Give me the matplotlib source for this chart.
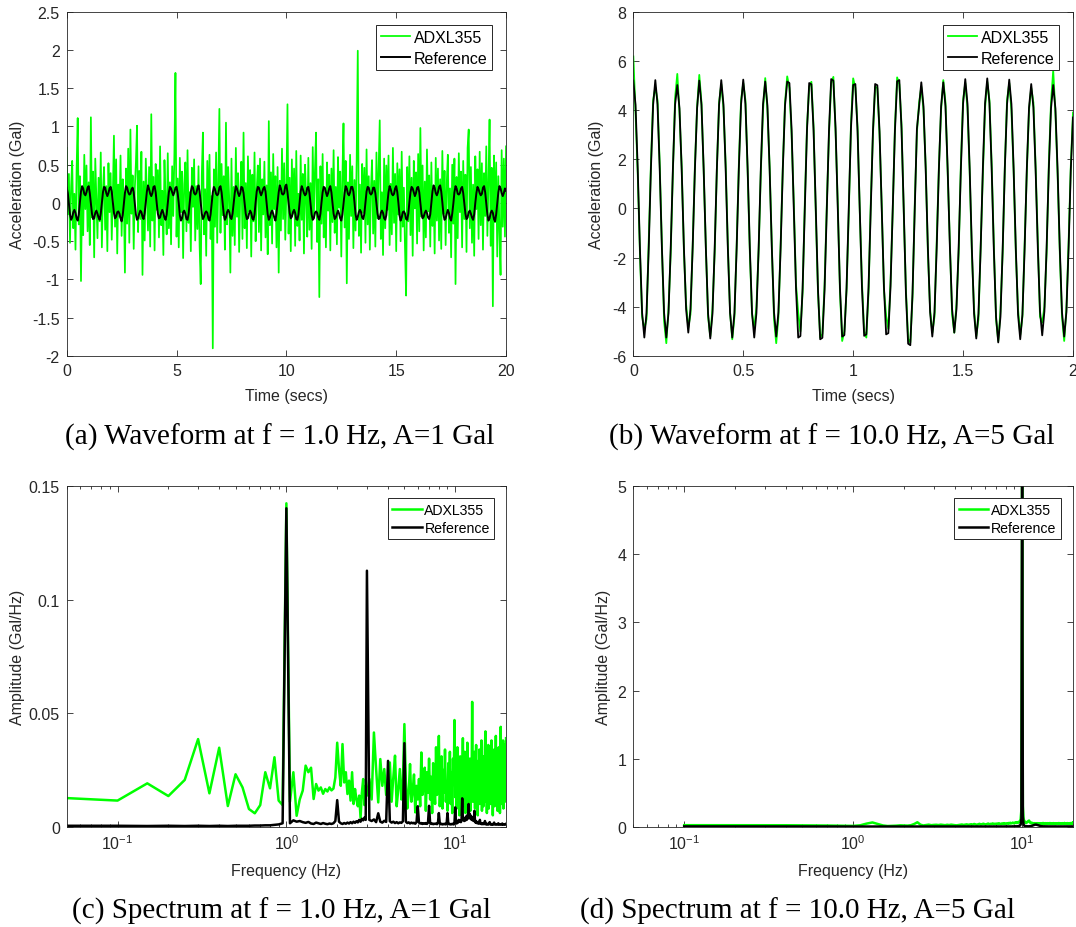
import numpy as np
import matplotlib

matplotlib.use("Agg")
import matplotlib.pyplot as plt
from matplotlib.ticker import FuncFormatter, LogLocator, NullFormatter

plt.rcParams["font.family"] = ["Liberation Sans", "DejaVu Sans"]
plt.rcParams["axes.unicode_minus"] = False
plt.rcParams["mathtext.fontset"] = "custom"
plt.rcParams["mathtext.rm"] = "Liberation Sans"
plt.rcParams["mathtext.it"] = "Liberation Sans:italic"

GREEN = "#00ff00"
AXCOL = "#262626"

# ---------------- (a) waveform 1.0 Hz, 0.05 s steps ----------------
acc_a_sensor = [
    0.72, -0.15, 0.38, -0.52, 0.21, 0.55, -0.33, 0.12, -0.61, 0.44, 1.11, -0.28, 0.35, -1.02, 0.18, -0.42, 0.63, -0.08, 0.49, -0.37,
    0.27, -0.55, 1.12, -0.19, 0.41, -0.71, 0.58, 0.05, -0.46, 0.33, -0.24, 0.66, -0.58, 0.15, 0.47, -0.35, 0.22, -0.63, 0.52, -0.12,
    0.39, -0.48, 0.11, 0.88, -0.31, 0.57, -0.66, 0.24, -0.18, 0.62, -0.43, 0.31, 0.06, -0.91, 0.45, -0.27, 0.71, -0.52, 0.96, -0.14,
    0.36, -0.60, 0.19, 0.53, 1.01, -0.38, 0.42, -0.21, 0.67, -0.94, 0.28, -0.49, 0.58, 0.09, -0.36, 0.47, -0.57, 1.16, -0.23, 0.34,
    -0.62, 0.51, -0.09, 0.43, -0.45, 0.74, -0.29, 0.16, -0.68, 0.56, 0.02, -0.41, 0.65, -0.33, 0.27, -0.54, 0.48, -0.17, 0.61, 1.70,
    -0.44, 0.32, -0.58, 0.59, -0.12, 0.41, -0.72, 0.25, 0.53, -0.37, 0.69, -0.26, 0.14, -0.63, 0.46, -0.05, 0.57, -0.49, 0.22, -0.34,
    0.48, -0.56, -1.06, 0.37, 0.92, -0.41, 0.18, -0.69, 0.55, -0.22, 0.63, -0.47, 0.09, -1.90, 0.44, -0.31, 0.66, -0.52, 0.28, 1.23,
    -0.39, 0.51, -0.16, 0.35, -0.61, 1.05, -0.28, 0.47, 0.04, -0.91, 0.58, -0.43, 0.21, -0.55, 0.72, -0.18, 0.39, -0.64, 0.13, 0.54,
    -0.47, 0.92, -0.33, 0.26, -0.59, 0.61, -0.11, 0.43, -0.70, 0.37, -0.24, 0.66, -0.50, 0.17, 0.49, -0.38, 0.58, -0.62, 0.31, -0.15,
    0.54, -0.45, 0.23, -0.67, 1.07, -0.29, 0.40, -0.53, 0.64, -0.08, 0.35, -0.58, 0.47, -0.91, 0.29, -0.36, 0.71, -0.21, 0.52, -0.48,
    0.18, 1.29, -0.40, 0.33, -0.63, 0.57, -0.14, 0.45, -0.56, 0.68, -0.30, 0.12, -0.49, 0.62, -0.22, 0.38, -0.66, 0.50, 0.07, -0.44,
    0.59, -0.35, 0.26, -0.60, 0.73, -0.19, 0.42, 0.92, -0.51, 0.31, -1.23, 0.48, -0.27, 0.64, -0.45, 0.16, -0.58, 0.53, -0.10, 0.37,
    -0.62, 0.45, -0.25, 0.69, -0.39, 0.21, -0.54, 0.60, -0.06, 0.41, -0.70, 0.34, 1.04, -0.32, 0.55, -1.05, 0.27, -0.47, 0.63, -0.17,
    0.48, -0.59, 0.30, -0.36, 0.57, 1.99, -0.43, 0.24, -0.65, 0.51, -0.13, 0.46, -0.52, 0.70, -0.28, 0.35, -0.61, 0.19, 0.56, -0.40,
    0.29, -0.57, 0.66, -0.20, 0.43, 1.08, -0.47, 0.14, -0.68, 0.58, -0.33, 0.49, -0.09, 0.62, -0.55, 0.25, -0.41, 0.72, -0.26, 0.38,
    -0.63, 0.52, -0.15, 0.44, -0.50, 0.67, -0.31, 0.20, -0.58, -1.21, 0.47, -0.24, 0.61, -0.42, 0.33, -0.69, 0.55, -0.07, 0.40, -0.53,
    0.64, -0.37, 0.98, -0.18, 0.49, -0.62, 0.28, -0.45, 0.70, -0.11, 0.36, -0.57, 0.53, -0.30, 0.17, -0.66, 0.59, -0.23, 0.45, -0.49,
    0.31, -0.60, 0.68, -0.14, 0.42, -0.55, 0.26, 0.63, -0.39, 0.19, -0.71, 0.50, -0.27, 0.58, -1.06, 0.34, -0.46, 0.65, -0.12, 0.41,
    -0.58, 0.55, -0.21, 0.37, -0.64, 0.72, 0.96, -0.33, 0.47, -0.52, 0.24, -0.69, 0.61, -0.08, 0.44, -0.47, 0.67, -0.29, 0.52, -0.61,
    0.39, -0.17, 0.74, -0.43, 0.28, 1.09, -0.56, 0.46, -1.35, 0.62, -0.25, 0.53, -0.70, 0.35, -0.38, -0.94, 0.69, -0.31, 0.58, -0.44,
    0.74,
]
acc_a_ref = [
    0.20, 0.13, -0.01, -0.15, -0.22, -0.19, -0.12, -0.09, -0.13, -0.20, -0.23, -0.15, 0.01, 0.15, 0.22, 0.19, 0.12, 0.10, 0.14, 0.20,
    0.22, 0.13, -0.01, -0.14, -0.21, -0.20, -0.13, -0.10, -0.14, -0.19, -0.22, -0.14, 0.00, 0.14, 0.21, 0.20, 0.13, 0.09, 0.13, 0.19,
    0.21, 0.15, 0.01, -0.13, -0.20, -0.18, -0.12, -0.11, -0.14, -0.20, -0.24, -0.16, -0.01, 0.13, 0.22, 0.20, 0.14, 0.11, 0.12, 0.18,
    0.20, 0.14, 0.00, -0.15, -0.22, -0.20, -0.14, -0.10, -0.12, -0.18, -0.21, -0.13, 0.01, 0.15, 0.23, 0.18, 0.12, 0.09, 0.13, 0.21,
    0.22, 0.14, -0.01, -0.14, -0.20, -0.19, -0.13, -0.09, -0.13, -0.19, -0.22, -0.15, 0.00, 0.14, 0.21, 0.19, 0.14, 0.10, 0.14, 0.20,
    0.21, 0.13, 0.00, -0.16, -0.23, -0.20, -0.12, -0.10, -0.14, -0.21, -0.22, -0.14, 0.01, 0.15, 0.22, 0.20, 0.13, 0.11, 0.13, 0.19,
    0.23, 0.15, 0.01, -0.14, -0.21, -0.18, -0.13, -0.11, -0.13, -0.20, -0.23, -0.15, -0.01, 0.14, 0.21, 0.18, 0.12, 0.10, 0.12, 0.20,
    0.22, 0.14, 0.00, -0.15, -0.22, -0.19, -0.12, -0.09, -0.12, -0.19, -0.21, -0.14, 0.00, 0.13, 0.22, 0.19, 0.13, 0.09, 0.13, 0.21,
    0.20, 0.13, -0.01, -0.14, -0.21, -0.20, -0.14, -0.10, -0.13, -0.20, -0.22, -0.15, 0.01, 0.15, 0.21, 0.20, 0.14, 0.10, 0.14, 0.19,
    0.21, 0.15, 0.00, -0.15, -0.22, -0.19, -0.13, -0.10, -0.14, -0.19, -0.23, -0.14, 0.00, 0.14, 0.23, 0.19, 0.12, 0.11, 0.13, 0.22,
    0.24, 0.14, 0.01, -0.13, -0.20, -0.18, -0.12, -0.09, -0.13, -0.21, -0.22, -0.15, 0.00, 0.15, 0.22, 0.18, 0.13, 0.10, 0.12, 0.20,
    0.21, 0.13, -0.01, -0.15, -0.22, -0.20, -0.13, -0.11, -0.13, -0.19, -0.22, -0.14, 0.01, 0.14, 0.21, 0.20, 0.14, 0.09, 0.13, 0.19,
    0.22, 0.14, 0.00, -0.14, -0.21, -0.19, -0.14, -0.10, -0.14, -0.20, -0.23, -0.15, -0.01, 0.13, 0.22, 0.19, 0.12, 0.10, 0.14, 0.21,
    0.21, 0.15, 0.01, -0.15, -0.22, -0.18, -0.12, -0.09, -0.12, -0.19, -0.21, -0.14, 0.00, 0.15, 0.21, 0.20, 0.13, 0.11, 0.13, 0.20,
    0.20, 0.13, -0.01, -0.14, -0.21, -0.20, -0.13, -0.10, -0.13, -0.20, -0.22, -0.16, 0.00, 0.14, 0.22, 0.18, 0.12, 0.10, 0.12, 0.19,
    0.22, 0.14, 0.00, -0.16, -0.23, -0.19, -0.12, -0.11, -0.14, -0.21, -0.22, -0.14, 0.01, 0.14, 0.21, 0.19, 0.14, 0.09, 0.13, 0.20,
    0.21, 0.14, 0.00, -0.14, -0.20, -0.18, -0.13, -0.10, -0.13, -0.19, -0.21, -0.15, 0.00, 0.15, 0.23, 0.20, 0.13, 0.10, 0.14, 0.21,
    0.23, 0.15, 0.01, -0.15, -0.22, -0.20, -0.14, -0.09, -0.13, -0.20, -0.23, -0.14, -0.01, 0.14, 0.22, 0.19, 0.12, 0.11, 0.13, 0.19,
    0.21, 0.13, -0.01, -0.14, -0.21, -0.19, -0.12, -0.10, -0.14, -0.19, -0.22, -0.15, 0.00, 0.13, 0.21, 0.18, 0.13, 0.10, 0.12, 0.20,
    0.22, 0.14, 0.00, -0.15, -0.23, -0.20, -0.13, -0.10, -0.13, -0.21, -0.24, -0.15, 0.00, 0.14, 0.22, 0.19, 0.13, 0.09, 0.13, 0.19,
    0.16,
]
time_a = np.arange(len(acc_a_ref)) * 0.05

# ---------------- (b) waveform 10.0 Hz, 0.01 s steps ----------------
acc_b_ref = [
    5.20, 4.21, 1.61, -1.63, -4.25, -5.25, -4.25, -1.63, 1.61, 4.21,
    5.22, 4.23, 1.62, -1.63, -4.25, -5.25, -4.25, -1.63, 1.62, 4.23,
    5.02, 4.07, 1.56, -1.57, -4.09, -5.05, -4.09, -1.57, 1.56, 4.07,
    5.20, 4.21, 1.61, -1.64, -4.28, -5.29, -4.28, -1.64, 1.61, 4.21,
    5.22, 4.23, 1.62, -1.63, -4.25, -5.25, -4.25, -1.63, 1.62, 4.23,
    5.24, 4.24, 1.62, -1.63, -4.25, -5.25, -4.25, -1.63, 1.62, 4.24,
    5.16, 4.18, 1.60, -1.62, -4.22, -5.21, -4.22, -1.62, 1.60, 4.18,
    5.16, 5.10, 3.19, 0.02, -3.25, -5.25, -5.19, -3.25, -0.02, 3.19,
    5.10, 5.05, 3.16, 0.01, -3.30, -5.32, -5.26, -3.30, -0.01, 3.16,
    5.26, 5.20, 3.26, 0.02, -3.23, -5.21, -5.15, -3.23, 0.00, 3.26,
    5.02, 5.06, 3.14, 0.00, -3.21, -5.18, -5.12, -3.21, 0.01, 3.14,
    5.06, 5.01, 3.14, -0.01, -3.17, -5.12, -5.07, -3.17, 0.00, 3.14,
    5.17, 5.22, 3.24, 0.02, -3.45, -5.50, -5.56, -3.45, -0.02, 3.24,
    4.15, 5.13, 4.15, 1.59, -1.62, -4.22, -5.21, -4.22, -1.62, 1.59,
    4.15, 5.13, 4.15, 1.59, -1.57, -4.09, -5.05, -4.09, -1.57, 1.59,
    4.26, 5.26, 4.26, 1.63, -1.64, -4.28, -5.29, -4.28, -1.64, 1.63,
    4.28, 5.29, 4.28, 1.64, -1.69, -4.41, -5.45, -4.41, -1.69, 1.64,
    4.24, 5.24, 4.24, 1.62, -1.65, -4.31, -5.32, -4.31, -1.65, 1.62,
    4.10, 5.06, 4.10, 1.57, -1.60, -4.18, -5.16, -4.18, -1.60, 1.57,
    4.07, 5.02, 4.07, 1.56, -1.62, -4.22, -5.21, -4.22, -1.62, 1.56,
    3.70,
]
acc_b_sensor = [
    6.18, 3.90, 1.40, -1.80, -4.40, -4.90, -4.50, -1.40, 1.80, 4.40,
    4.93, 4.40, 1.80, -1.50, -4.60, -5.48, -4.10, -1.80, 1.50, 4.50,
    5.47, 3.90, 1.70, -1.70, -3.90, -4.84, -4.30, -1.50, 1.70, 4.10,
    5.43, 4.30, 1.50, -1.60, -4.40, -5.20, -4.10, -1.80, 1.60, 4.30,
    5.05, 4.10, 1.80, -1.50, -4.20, -5.32, -4.40, -1.50, 1.80, 4.40,
    5.10, 4.40, 1.50, -1.80, -4.30, -4.90, -4.00, -1.70, 1.50, 4.00,
    5.30, 4.00, 1.70, -1.50, -4.50, -5.48, -4.40, -1.50, 1.70, 4.30,
    5.37, 4.90, 3.00, 0.20, -3.10, -4.23, -5.00, -3.40, 0.20, 3.30,
    4.95, 5.15, 3.30, -0.20, -3.40, -5.25, -5.10, -3.10, 0.10, 3.00,
    5.10, 5.35, 3.10, 0.20, -3.40, -5.39, -5.00, -3.30, -0.20, 3.40,
    5.29, 4.90, 3.30, -0.10, -3.00, -5.00, -5.25, -3.40, 0.20, 3.00,
    4.95, 4.90, 3.00, 0.10, -3.30, -4.37, -4.90, -3.00, -0.10, 3.30,
    5.33, 5.05, 3.40, -0.10, -3.30, -5.30, -5.45, -3.60, 0.10, 3.10,
    4.30, 4.95, 4.00, 1.70, -1.80, -4.10, -5.05, -4.40, -1.40, 1.70,
    4.00, 5.22, 4.30, 1.40, -1.40, -4.30, -5.05, -3.90, -1.80, 1.80,
    4.40, 5.10, 4.10, 1.50, -1.80, -4.10, -5.20, -4.50, -1.50, 1.40,
    4.10, 5.15, 4.40, 1.80, -1.50, -4.50, -5.39, -4.20, -1.80, 1.70,
    4.40, 5.10, 4.00, 1.50, -1.80, -4.10, -5.15, -4.40, -1.50, 1.50,
    4.00, 4.90, 4.30, 1.70, -1.40, -4.40, -4.64, -4.00, -1.80, 1.80,
    4.30, 5.60, 3.90, 1.40, -1.80, -4.40, -5.39, -4.10, -1.40, 1.70,
    3.90,
]
time_b = np.arange(len(acc_b_ref)) * 0.01

# ---------------- (c) spectrum 1.0 Hz ----------------
# 0.05 Hz bins up to 3 Hz, then 0.1 Hz bins up to 20 Hz
freq_c = np.concatenate([np.arange(1, 61) * 0.05, np.arange(31, 201) * 0.1])
amp_c_sensor = [
    0.0126, 0.0115, 0.0191, 0.0135, 0.0206, 0.0386, 0.0147, 0.0348, 0.0091, 0.0231,
    0.0173, 0.0078, 0.0059, 0.0095, 0.0240, 0.0169, 0.0306, 0.0115, 0.0095, 0.1425,
    0.0110, 0.0240, 0.0048, 0.0120, 0.0159, 0.0269, 0.0240, 0.0260, 0.0122, 0.0188,
    0.0159, 0.0173, 0.0145, 0.0166, 0.0155, 0.0173, 0.0160, 0.0168, 0.0217, 0.0370,
    0.0254, 0.0180, 0.0364, 0.0195, 0.0240, 0.0144, 0.0203, 0.0115, 0.0240, 0.0100,
    0.0166, 0.0120, 0.0090, 0.0137, 0.0040, 0.0150, 0.0210, 0.0095, 0.0180, 0.0137,
    0.0210, 0.0120, 0.0415, 0.0254, 0.0107, 0.0298, 0.0180, 0.0254, 0.0140, 0.0180,
    0.0283, 0.0110, 0.0217, 0.0313, 0.0090, 0.0166, 0.0254, 0.0120, 0.0200, 0.0452,
    0.0195, 0.0080, 0.0150, 0.0276, 0.0110, 0.0159, 0.0230, 0.0063, 0.0180, 0.0120,
    0.0210, 0.0090, 0.0327, 0.0140, 0.0180, 0.0260, 0.0070, 0.0240, 0.0150, 0.0300,
    0.0120, 0.0220, 0.0060, 0.0280, 0.0170, 0.0100, 0.0350, 0.0140, 0.0230, 0.0400,
    0.0090, 0.0190, 0.0310, 0.0080, 0.0250, 0.0150, 0.0340, 0.0110, 0.0200, 0.0070,
    0.0280, 0.0160, 0.0330, 0.0100, 0.0240, 0.0060, 0.0300, 0.0190, 0.0470, 0.0130,
    0.0220, 0.0080, 0.0350, 0.0150, 0.0270, 0.0050, 0.0310, 0.0120, 0.0240, 0.0180,
    0.0390, 0.0090, 0.0210, 0.0330, 0.0060, 0.0260, 0.0140, 0.0370, 0.0100, 0.0230,
    0.0170, 0.0300, 0.0070, 0.0280, 0.0150, 0.0550, 0.0110, 0.0250, 0.0190, 0.0330,
    0.0080, 0.0240, 0.0360, 0.0120, 0.0200, 0.0050, 0.0290, 0.0160, 0.0340, 0.0100,
    0.0260, 0.0140, 0.0380, 0.0070, 0.0220, 0.0310, 0.0090, 0.0270, 0.0150, 0.0350,
    0.0420, 0.0110, 0.0230, 0.0060, 0.0300, 0.0180, 0.0360, 0.0080, 0.0250, 0.0140,
    0.0320, 0.0100, 0.0210, 0.0380, 0.0130, 0.0270, 0.0050, 0.0290, 0.0170, 0.0340,
    0.0090, 0.0240, 0.0150, 0.0400, 0.0110, 0.0200, 0.0330, 0.0070, 0.0260, 0.0180,
    0.0350, 0.0120, 0.0280, 0.0060, 0.0230, 0.0440, 0.0140, 0.0310, 0.0100, 0.0250,
    0.0170, 0.0380, 0.0080, 0.0290, 0.0130, 0.0360, 0.0110, 0.0270, 0.0200, 0.0390,
]
amp_c_ref = [
    0.0004, 0.0004, 0.0003, 0.0004, 0.0003, 0.0004, 0.0003, 0.0004, 0.0003, 0.0004,
    0.0004, 0.0004, 0.0005, 0.0005, 0.0006, 0.0006, 0.0008, 0.0010, 0.0015, 0.1403,
    0.0015, 0.0028, 0.0022, 0.0025, 0.0020, 0.0017, 0.0021, 0.0014, 0.0012, 0.0018,
    0.0015, 0.0012, 0.0016, 0.0013, 0.0011, 0.0014, 0.0012, 0.0015, 0.0025, 0.0117,
    0.0022, 0.0015, 0.0012, 0.0016, 0.0013, 0.0018, 0.0014, 0.0020, 0.0015, 0.0022,
    0.0017, 0.0024, 0.0019, 0.0030, 0.0022, 0.0035, 0.0028, 0.0040, 0.0030, 0.1128,
    0.0030, 0.0025, 0.0032, 0.0020, 0.0059, 0.0022, 0.0018, 0.0026, 0.0021, 0.0290,
    0.0024, 0.0018, 0.0022, 0.0016, 0.0020, 0.0015, 0.0019, 0.0017, 0.0024, 0.0368,
    0.0022, 0.0016, 0.0019, 0.0014, 0.0018, 0.0015, 0.0017, 0.0013, 0.0020, 0.0090,
    0.0018, 0.0014, 0.0016, 0.0012, 0.0015, 0.0013, 0.0016, 0.0012, 0.0018, 0.0092,
    0.0016, 0.0012, 0.0014, 0.0011, 0.0013, 0.0012, 0.0014, 0.0011, 0.0016, 0.0060,
    0.0014, 0.0011, 0.0013, 0.0010, 0.0012, 0.0011, 0.0013, 0.0010, 0.0015, 0.0060,
    0.0013, 0.0011, 0.0012, 0.0010, 0.0012, 0.0011, 0.0013, 0.0010, 0.0016, 0.0085,
    0.0020, 0.0014, 0.0025, 0.0018, 0.0030, 0.0022, 0.0028, 0.0020, 0.0026, 0.0125,
    0.0030, 0.0040, 0.0025, 0.0035, 0.0028, 0.0045, 0.0030, 0.0050, 0.0036, 0.0100,
    0.0040, 0.0055, 0.0035, 0.0048, 0.0030, 0.0042, 0.0028, 0.0035, 0.0025, 0.0070,
    0.0022, 0.0018, 0.0025, 0.0016, 0.0020, 0.0015, 0.0018, 0.0014, 0.0017, 0.0030,
    0.0014, 0.0012, 0.0015, 0.0011, 0.0013, 0.0012, 0.0014, 0.0011, 0.0013, 0.0025,
    0.0012, 0.0010, 0.0013, 0.0011, 0.0012, 0.0010, 0.0012, 0.0011, 0.0013, 0.0020,
    0.0011, 0.0010, 0.0012, 0.0010, 0.0011, 0.0010, 0.0012, 0.0010, 0.0011, 0.0018,
    0.0011, 0.0010, 0.0011, 0.0010, 0.0011, 0.0010, 0.0011, 0.0010, 0.0011, 0.0015,
    0.0010, 0.0011, 0.0010, 0.0011, 0.0010, 0.0011, 0.0010, 0.0011, 0.0010, 0.0014,
    0.0010, 0.0011, 0.0010, 0.0011, 0.0010, 0.0011, 0.0010, 0.0011, 0.0010, 0.0012,
]

# ---------------- (d) spectrum 10.0 Hz, 0.1 Hz bins ----------------
freq_d = np.arange(1, 201) * 0.1
amp_d_sensor = [
    0.022, 0.022, 0.021, 0.021, 0.020, 0.019, 0.017, 0.015, 0.013, 0.012,
    0.020, 0.045, 0.062, 0.040, 0.018, 0.010, 0.012, 0.015, 0.020, 0.018,
    0.016, 0.022, 0.040, 0.065, 0.030, 0.018, 0.024, 0.030, 0.022, 0.026,
    0.028, 0.024, 0.030, 0.026, 0.022, 0.028, 0.024, 0.030, 0.026, 0.022,
    0.020, 0.024, 0.028, 0.032, 0.026, 0.030, 0.034, 0.028, 0.032, 0.036,
    0.030, 0.040, 0.034, 0.028, 0.036, 0.042, 0.030, 0.038, 0.044, 0.036,
    0.032, 0.040, 0.046, 0.034, 0.042, 0.038, 0.048, 0.036, 0.044, 0.040,
    0.046, 0.038, 0.050, 0.042, 0.036, 0.048, 0.044, 0.052, 0.040, 0.046,
    0.050, 0.044, 0.054, 0.046, 0.058, 0.048, 0.052, 0.060, 0.050, 0.056,
    0.062, 0.052, 0.066, 0.058, 0.070, 0.064, 0.080, 0.110, 0.250, 5.050,
    0.300, 0.120, 0.080, 0.060, 0.070, 0.055, 0.065, 0.075, 0.085, 0.090,
    0.070, 0.055, 0.060, 0.048, 0.056, 0.050, 0.044, 0.052, 0.046, 0.050,
    0.046, 0.040, 0.052, 0.044, 0.038, 0.050, 0.042, 0.048, 0.036, 0.045,
    0.050, 0.040, 0.055, 0.043, 0.047, 0.038, 0.052, 0.044, 0.049, 0.041,
    0.045, 0.052, 0.039, 0.048, 0.043, 0.054, 0.040, 0.047, 0.051, 0.042,
    0.048, 0.038, 0.053, 0.044, 0.040, 0.050, 0.045, 0.037, 0.049, 0.043,
    0.041, 0.051, 0.046, 0.039, 0.054, 0.042, 0.048, 0.044, 0.038, 0.050,
    0.045, 0.040, 0.052, 0.047, 0.041, 0.049, 0.043, 0.055, 0.039, 0.046,
    0.042, 0.050, 0.044, 0.038, 0.053, 0.046, 0.040, 0.048, 0.043, 0.051,
    0.047, 0.041, 0.054, 0.045, 0.039, 0.050, 0.044, 0.058, 0.042, 0.060,
]
amp_d_ref = [
    0.004, 0.004, 0.003, 0.004, 0.003, 0.003, 0.003, 0.002, 0.002, 0.002,
    0.002, 0.003, 0.002, 0.003, 0.002, 0.002, 0.003, 0.002, 0.003, 0.002,
    0.002, 0.003, 0.002, 0.002, 0.003, 0.002, 0.003, 0.002, 0.002, 0.003,
    0.002, 0.003, 0.002, 0.003, 0.002, 0.002, 0.003, 0.002, 0.003, 0.002,
    0.003, 0.002, 0.003, 0.002, 0.003, 0.002, 0.002, 0.003, 0.002, 0.003,
    0.002, 0.003, 0.002, 0.003, 0.002, 0.003, 0.002, 0.003, 0.002, 0.003,
    0.003, 0.002, 0.003, 0.002, 0.003, 0.003, 0.002, 0.003, 0.002, 0.003,
    0.003, 0.003, 0.002, 0.003, 0.003, 0.002, 0.003, 0.003, 0.003, 0.004,
    0.003, 0.004, 0.003, 0.004, 0.004, 0.003, 0.004, 0.005, 0.004, 0.005,
    0.005, 0.006, 0.005, 0.007, 0.008, 0.010, 0.014, 0.030, 0.120, 5.600,
    0.150, 0.030, 0.014, 0.010, 0.008, 0.007, 0.006, 0.006, 0.005, 0.006,
    0.006, 0.008, 0.010, 0.012, 0.015, 0.018, 0.022, 0.026, 0.028, 0.030,
    0.030, 0.028, 0.025, 0.022, 0.018, 0.015, 0.012, 0.010, 0.008, 0.007,
    0.006, 0.006, 0.005, 0.005, 0.005, 0.004, 0.005, 0.004, 0.004, 0.004,
    0.004, 0.004, 0.003, 0.004, 0.004, 0.003, 0.004, 0.003, 0.004, 0.003,
    0.003, 0.004, 0.003, 0.003, 0.004, 0.003, 0.003, 0.004, 0.003, 0.003,
    0.003, 0.003, 0.004, 0.003, 0.003, 0.003, 0.004, 0.003, 0.003, 0.003,
    0.003, 0.004, 0.003, 0.003, 0.003, 0.003, 0.004, 0.003, 0.003, 0.003,
    0.003, 0.003, 0.003, 0.004, 0.003, 0.003, 0.003, 0.003, 0.004, 0.003,
    0.003, 0.003, 0.003, 0.003, 0.004, 0.003, 0.003, 0.003, 0.003, 0.004,
]

legend_labels = ["ADXL355", "Reference"]
captions = [
    "(a) Waveform at f = 1.0 Hz, A=1 Gal",
    "(b) Waveform at f = 10.0 Hz, A=5 Gal",
    "(c) Spectrum at f = 1.0 Hz, A=1 Gal",
    "(d) Spectrum at f = 10.0 Hz, A=5 Gal",
]


def style_axes(ax, fs=11.5):
    for sp in ax.spines.values():
        sp.set_color(AXCOL)
        sp.set_linewidth(0.6)
    ax.tick_params(which="both", direction="in", top=True, right=True,
                   colors=AXCOL, labelsize=fs, width=0.6)
    ax.tick_params(which="major", length=4.5, pad=5)
    ax.tick_params(which="minor", length=2.5)
    ax.yaxis.set_major_formatter(FuncFormatter(lambda v, p: "%g" % round(v, 6)))


def add_legend(ax, fs, hl, tp, ls):
    leg = ax.legend(legend_labels, loc="upper right", fontsize=fs, frameon=True,
                    fancybox=False, framealpha=1, edgecolor=AXCOL,
                    handlelength=hl, handletextpad=tp, borderpad=0.3,
                    labelspacing=ls, borderaxespad=0.85)
    leg.get_frame().set_linewidth(0.7)
    for txt in leg.get_texts():
        txt.set_color("#000000")


fig = plt.figure(figsize=(10.76, 9.28), dpi=100)
ax_a = fig.add_axes([0.0620, 0.6153, 0.4083, 0.3710])
ax_b = fig.add_axes([0.5886, 0.6153, 0.4086, 0.3710])
ax_c = fig.add_axes([0.0620, 0.1081, 0.4083, 0.3668])
ax_d = fig.add_axes([0.5886, 0.1081, 0.4086, 0.3668])

# (a)
ax_a.plot(time_a, acc_a_sensor, color=GREEN, lw=1.25)
ax_a.plot(time_a, acc_a_ref, color="black", lw=1.4)
ax_a.set_xlim(0, 20)
ax_a.set_ylim(-2, 2.5)
ax_a.set_xticks([0, 5, 10, 15, 20])
ax_a.set_yticks(np.arange(-2, 2.51, 0.5))
ax_a.xaxis.set_major_formatter(FuncFormatter(lambda v, p: "%g" % v))
style_axes(ax_a)
ax_a.set_xlabel("Time (secs)", fontsize=11.5, color=AXCOL)
ax_a.set_ylabel("Acceleration (Gal)", fontsize=11.5, color=AXCOL)
add_legend(ax_a, 11.5, 1.8, 0.25, 0.35)

# (b)
ax_b.plot(time_b, acc_b_sensor, color=GREEN, lw=1.3)
ax_b.plot(time_b, acc_b_ref, color="black", lw=1.3)
ax_b.set_xlim(0, 2)
ax_b.set_ylim(-6, 8)
ax_b.set_xticks([0, 0.5, 1, 1.5, 2])
ax_b.set_yticks(np.arange(-6, 8.1, 2))
ax_b.xaxis.set_major_formatter(FuncFormatter(lambda v, p: "%g" % v))
style_axes(ax_b)
ax_b.set_xlabel("Time (secs)", fontsize=11.5, color=AXCOL)
ax_b.set_ylabel("Acceleration (Gal)", fontsize=11.5, color=AXCOL)
add_legend(ax_b, 11.5, 1.8, 0.25, 0.35)

# (c) and (d) spectra on log frequency axis
for ax, fr, gs, rs, ymax, yt in [
    (ax_c, freq_c, amp_c_sensor, amp_c_ref, 0.15, [0, 0.05, 0.1, 0.15]),
    (ax_d, freq_d, amp_d_sensor, amp_d_ref, 5, [0, 1, 2, 3, 4, 5]),
]:
    ax.plot(fr, gs, color=GREEN, lw=1.8)
    ax.plot(fr, rs, color="black", lw=1.8)
    ax.set_xscale("log")
    ax.set_xlim(0.05, 20)
    ax.set_ylim(0, ymax)
    ax.set_yticks(yt)
    ax.xaxis.set_major_locator(LogLocator(base=10, numticks=10))
    ax.xaxis.set_minor_locator(LogLocator(base=10, subs=np.arange(2, 10), numticks=20))
    ax.xaxis.set_minor_formatter(NullFormatter())
    style_axes(ax)
    ax.set_xlabel("Frequency (Hz)", fontsize=11.5, color=AXCOL)
    ax.set_ylabel("Amplitude (Gal/Hz)", fontsize=11.5, color=AXCOL)
    add_legend(ax, 10.2, 2.1, 0.2, 0.3)

# label placement (axes fraction)
for ax, yx in [(ax_a, -0.111), (ax_b, -0.083), (ax_c, -0.111), (ax_d, -0.067)]:
    ax.yaxis.label.set_va("center")
    ax.yaxis.set_label_coords(yx, 0.5)
ax_a.xaxis.label.set_va("center")
ax_b.xaxis.label.set_va("center")
ax_a.xaxis.set_label_coords(0.5, -0.116)
ax_b.xaxis.set_label_coords(0.5, -0.116)
for ax in (ax_c, ax_d):
    ax.xaxis.label.set_va("center")
    ax.xaxis.set_label_coords(0.5, -0.130)

# captions below each panel
cap_pos = [(280, 437), (832, 437), (281, 911), (798, 911)]
for (cx, cy), cap in zip(cap_pos, captions):
    fig.text(cx / 1076, 1 - cy / 928, cap, ha="center", va="center",
             fontsize=21, family=["Liberation Serif", "DejaVu Serif"], color="black")

plt.savefig("out.png", dpi=100)
